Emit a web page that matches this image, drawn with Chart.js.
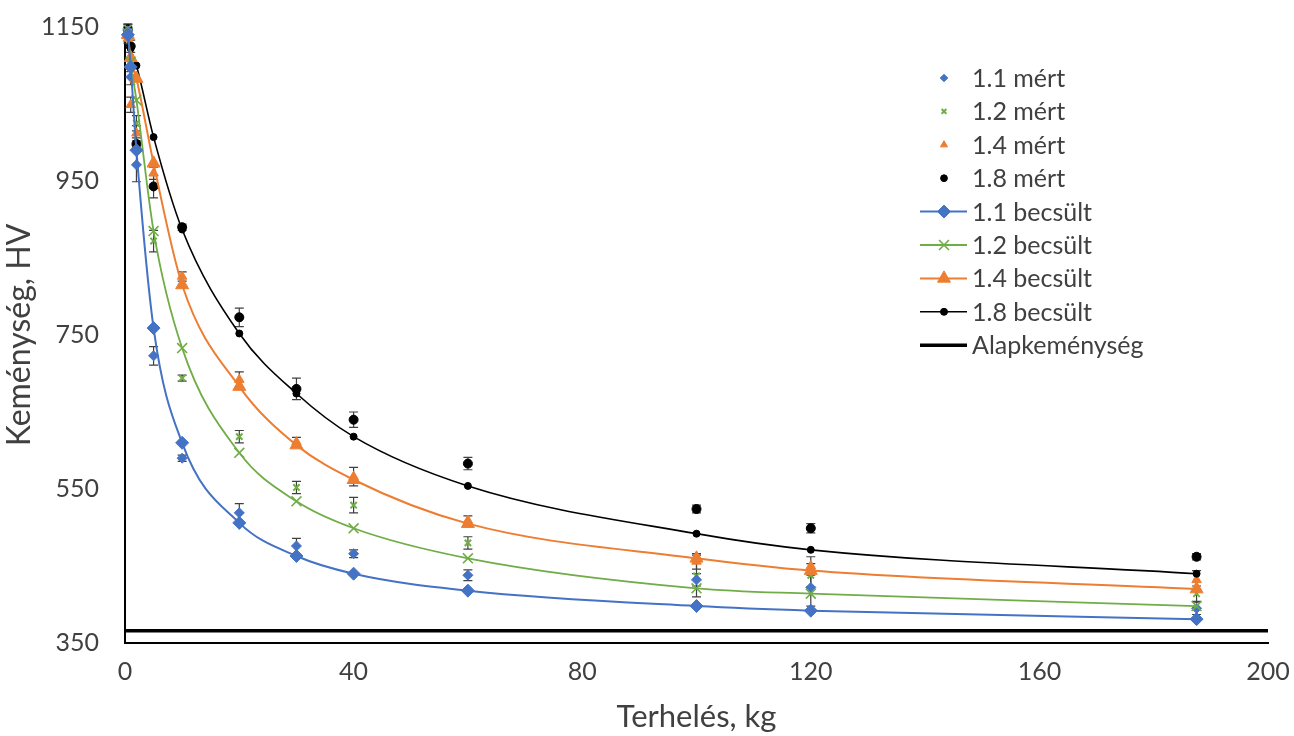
<!DOCTYPE html>
<html>
<head>
<meta charset="utf-8">
<script src="https://cdn.jsdelivr.net/npm/chart.js@4.4.0/dist/chart.umd.min.js"></script>
<style>
html,body{margin:0;padding:0;background:#fff;}
#wrap{position:relative;width:1294px;height:736px;}
</style>
</head>
<body>
<div id="wrap"><canvas id="c" width="1294" height="736"></canvas></div>
<script>
// ---- data ----
const loads = [0.5, 1, 2, 5, 10, 20, 30, 40, 60, 100, 120, 187.5];

const meas11 = [1145, 1085, 971, 723, 590, 519, 476, 466, 438, 432, 422, 395];
const meas12 = [1148, 1100, 1025, 872, 694, 618, 552, 529, 480, 437, 438, 414];
const meas14 = [1135, 1049, 1012, 960, 826, 692, 611, 566, 509, 456, 450, 432];
const meas18 = [1147, 1125, 998, 943, 890, 773, 680, 640, 583, 524, 499, 462];

const err11 = [6, 10, 22, 12, 4, 12, 10, 5, 7, 8, 24, 8];
const err12 = [6, 8, 10, 14, 4, 8, 8, 10, 8, 27, 15, 10];
const err14 = [6, 10, 10, 8, 6, 10, 6, 12, 6, 10, 12, 12];
const err18 = [6, 8, 8, 15, 4, 12, 14, 10, 8, 5, 6, 4];

const est11 = [1140, 1098, 990, 759, 610, 506, 463, 440, 418, 398, 392, 381];
const est12 = [1142, 1105, 1055, 885, 733, 597, 534, 499, 460, 421, 414, 398];
const est14 = [1140, 1110, 1083, 973, 815, 683, 607, 562, 505, 460, 444, 420];
const est18 = [1142, 1122, 1100, 1007, 887, 752, 674, 618, 554, 492, 471, 440];

const baseX = [0, 200];
const baseHardness = [366, 366];

const xTicksStep = 40;
const yTicksStep = 200;
const xRange = [0, 200];
const yRange = [350, 1150];

const labels = ['1.1 mért', '1.2 mért', '1.4 mért', '1.8 mért',
  '1.1 becsült', '1.2 becsült', '1.4 becsült', '1.8 becsült', 'Alapkeménység'];

// ---- styling ----
const BLUE = '#4472C4', GREEN = '#70AD47', ORANGE = '#ED7D31', BLACK = '#000000';
const FONT = "Lato, 'Liberation Sans', sans-serif";
const TXT = '#404040';

const pts = (xs, ys) => xs.map((x, i) => ({x: x, y: ys[i]}));

function measured(label, ys, errs, color, style, r, bw) {
  return {
    label, data: pts(loads, ys), errors: errs,
    showLine: false, pointStyle: style, pointRadius: r, pointHoverRadius: r,
    pointBackgroundColor: color, pointBorderColor: color, pointBorderWidth: bw,
    backgroundColor: color, borderColor: color, order: 3, clip: false
  };
}
function estimated(label, ys, color, style, r, bw, lw) {
  return {
    label, data: pts(loads, ys), showLine: true,
    borderColor: color, backgroundColor: color, borderWidth: lw,
    pointStyle: style, pointRadius: r, pointHoverRadius: r,
    pointBackgroundColor: color, pointBorderColor: color, pointBorderWidth: bw,
    cubicInterpolationMode: 'monotone', tension: 0.4, order: 2, clip: false
  };
}

const datasets = [
  measured(labels[0], meas11, err11, BLUE, 'rectRot', 5, 1),
  measured(labels[1], meas12, err12, GREEN, 'crossRot', 4.5, 2),
  measured(labels[2], meas14, err14, ORANGE, 'triangle', 5.5, 1),
  measured(labels[3], meas18, err18, BLACK, 'circle', 4.5, 1),
  estimated(labels[4], est11, BLUE, 'rectRot', 6.5, 1, 2),
  estimated(labels[5], est12, GREEN, 'crossRot', 7, 1.6, 1.8),
  estimated(labels[6], est14, ORANGE, 'triangle', 7.5, 1, 2),
  estimated(labels[7], est18, BLACK, 'circle', 3.5, 1, 1.6),
  {
    label: labels[8], data: pts(baseX, baseHardness), showLine: true,
    borderColor: BLACK, backgroundColor: BLACK, borderWidth: 3.5,
    pointRadius: 0, pointHoverRadius: 0, order: 1
  }
];

// error bars drawn from the data through the chart's scales
const errorBarPlugin = {
  id: 'errorBars',
  beforeDatasetsDraw(chart) {
    const {ctx, scales: {x, y}} = chart;
    ctx.save();
    ctx.strokeStyle = '#404040';
    ctx.lineWidth = 1.2;
    chart.data.datasets.forEach(ds => {
      if (!ds.errors) return;
      ds.data.forEach((p, i) => {
        const e = ds.errors[i];
        const px = x.getPixelForValue(p.x);
        const top = y.getPixelForValue(p.y + e);
        const bot = y.getPixelForValue(p.y - e);
        ctx.beginPath();
        ctx.moveTo(px, top); ctx.lineTo(px, bot);
        ctx.moveTo(px - 4.5, top); ctx.lineTo(px + 4.5, top);
        ctx.moveTo(px - 4.5, bot); ctx.lineTo(px + 4.5, bot);
        ctx.stroke();
      });
    });
    ctx.restore();
  }
};

// legend drawn inside the plot area (top right)
const legendPlugin = {
  id: 'innerLegend',
  afterDraw(chart) {
    const ctx = chart.ctx;
    const x0 = 920, x1 = 967, mx = 944, tx = 972, y0 = 78, dy = 33.4;
    ctx.save();
    ctx.font = '25px ' + FONT;
    ctx.textBaseline = 'middle';
    ctx.textAlign = 'left';
    chart.data.datasets.forEach((ds, i) => {
      const yy = y0 + i * dy;
      if (ds.showLine) {
        ctx.strokeStyle = ds.borderColor;
        ctx.lineWidth = ds.borderWidth;
        ctx.beginPath(); ctx.moveTo(x0, yy); ctx.lineTo(x1, yy); ctx.stroke();
      }
      if (ds.pointRadius > 0) {
        ctx.fillStyle = ds.pointBackgroundColor;
        ctx.strokeStyle = ds.pointBorderColor;
        ctx.lineWidth = ds.pointBorderWidth;
        const r = ds.showLine ? ds.pointRadius : ds.pointRadius * 0.75;
        Chart.helpers.drawPoint(ctx, {pointStyle: ds.pointStyle, rotation: 0, radius: r, borderWidth: ds.pointBorderWidth}, mx, yy);
      }
      ctx.fillStyle = TXT;
      ctx.fillText(ds.label, tx, yy + 1);
    });
    ctx.restore();
  }
};

new Chart(document.getElementById('c'), {
  type: 'scatter',
  data: {datasets},
  plugins: [errorBarPlugin, legendPlugin],
  options: {
    responsive: false,
    animation: false,
    devicePixelRatio: 1,
    layout: {padding: {left: 0, right: 26, top: 27, bottom: 0}},
    plugins: {legend: {display: false}, tooltip: {enabled: false}},
    scales: {
      x: {
        type: 'linear', min: xRange[0], max: xRange[1],
        ticks: {stepSize: xTicksStep, font: {family: FONT, size: 25}, color: TXT, padding: 14,
          callback: v => String(v)},
        grid: {display: false, drawTicks: false},
        border: {display: true, color: BLACK, width: 2},
        title: {display: true, text: 'Terhelés, kg', font: {family: FONT, size: 31}, color: TXT, padding: {top: 0, bottom: 0}},
        afterFit(s) { s.height = 93; s.paddingLeft = 0; s.paddingRight = 0; }
      },
      y: {
        type: 'linear', min: yRange[0], max: yRange[1],
        ticks: {stepSize: yTicksStep, font: {family: FONT, size: 25}, color: TXT, padding: 26,
          callback: v => String(v)},
        grid: {display: false, drawTicks: false},
        border: {display: true, color: BLACK, width: 2},
        title: {display: true, text: 'Keménység, HV', font: {family: FONT, size: 32}, color: TXT, padding: {top: 0, bottom: 0}},
        afterFit(s) { s.width = 125; s.paddingTop = 0; s.paddingBottom = 0; }
      }
    }
  }
});
</script>
</body>
</html>
